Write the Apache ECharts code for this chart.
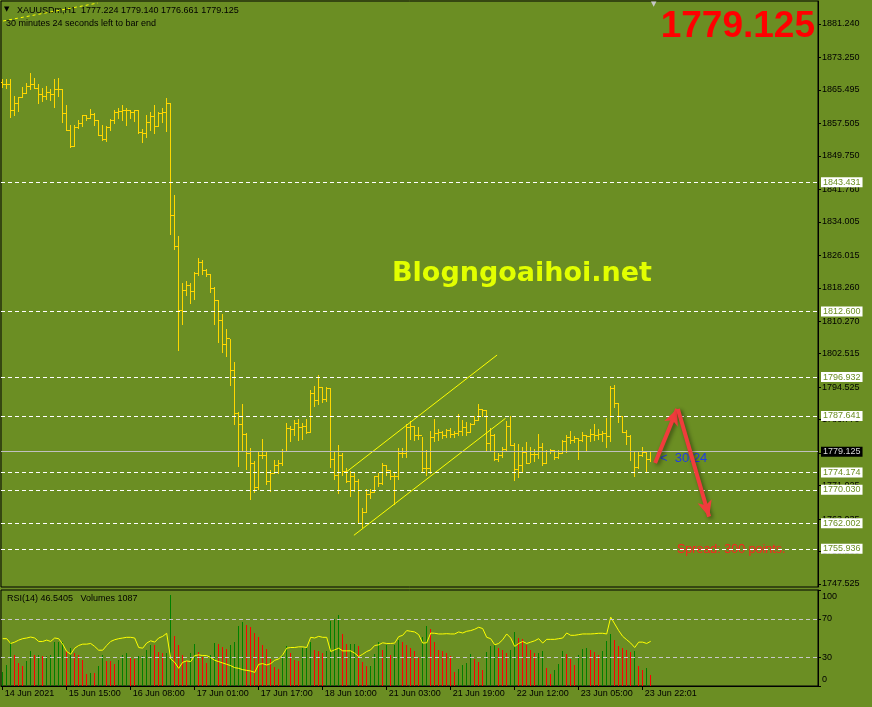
<!DOCTYPE html>
<html><head><meta charset="utf-8">
<script src="https://cdn.jsdelivr.net/npm/echarts@6/dist/echarts.min.js"></script>
<style>html,body{margin:0;padding:0;background:#6B8E23;}#c{width:872px;height:707px;}</style>
</head><body><div id="c"></div>
<script>
// ---------- DATA ----------
const opens = [1867.2,1866.7,1866.7,1860.7,1862.3,1863.7,1864.7,1866.4,1866.7,1865.9,1864.3,1864.0,1864.8,1864.3,1865.6,1865.5,1859.9,1855.9,1852.1,1856.6,1857.5,1859.3,1858.7,1859.7,1858.1,1854.7,1853.7,1856.6,1858.2,1860.1,1860.3,1860.7,1860.5,1860.1,1860.5,1855.3,1855.1,1857.8,1859.1,1856.7,1859.9,1860.1,1862.3,1835.4,1828.2,1812.9,1817.7,1818.7,1817.3,1821.7,1824.2,1822.5,1821.5,1818.1,1815.3,1810.4,1804.8,1806.2,1798.6,1788.3,1785.5,1783.3,1778.7,1776.3,1770.6,1778.3,1778.3,1772.0,1773.8,1775.9,1776.3,1779.1,1784.7,1784.3,1785.9,1784.9,1785.1,1783.7,1793.1,1791.3,1794.5,1791.6,1794.2,1777.3,1773.5,1778.1,1774.3,1772.0,1773.2,1771.9,1762.0,1764.6,1768.8,1769.3,1773.2,1771.6,1775.9,1774.6,1773.3,1773.3,1778.6,1778.6,1784.9,1785.1,1783.1,1782.9,1775.1,1775.1,1782.5,1783.5,1783.7,1783.1,1784.1,1783.3,1783.5,1783.9,1784.9,1783.7,1785.5,1786.5,1789.1,1788.9,1781.1,1783.1,1777.3,1778.1,1779.7,1785.1,1780.7,1774.8,1775.8,1778.9,1776.4,1778.5,1778.5,1780.2,1776.3,1779.1,1779.4,1777.8,1778.7,1781.5,1782.5,1781.7,1782.3,1781.7,1782.9,1782.7,1783.3,1782.9,1783.3,1783.5,1782.7,1794.2,1790.7,1787.6,1783.7,1782.7,1779.1,1775.4,1778.3,1778.9,1777.224];
const highs = [1867.9,1867.9,1868.0,1864.0,1863.7,1866.1,1867.1,1869.3,1868.3,1866.7,1865.9,1866.3,1865.6,1867.9,1868.3,1865.5,1861.7,1857.1,1856.9,1858.2,1859.5,1859.5,1860.9,1859.9,1858.3,1856.9,1856.7,1858.5,1860.7,1861.1,1861.7,1861.1,1860.7,1860.7,1860.7,1856.1,1859.5,1860.1,1861.7,1860.1,1861.1,1863.5,1862.3,1840.4,1830.6,1819.3,1819.7,1819.2,1821.9,1825.3,1824.7,1822.7,1821.5,1818.4,1815.3,1811.8,1808.3,1805.9,1800.4,1788.4,1790.5,1783.5,1779.9,1776.7,1779.1,1782.1,1778.9,1774.7,1777.0,1777.0,1779.7,1785.9,1785.1,1786.5,1786.7,1785.9,1786.8,1793.7,1794.8,1797.2,1794.5,1794.5,1794.2,1779.1,1780.7,1778.6,1775.0,1774.3,1774.1,1772.5,1765.6,1770.0,1770.0,1773.3,1773.9,1776.2,1775.9,1774.6,1773.9,1779.9,1779.9,1785.7,1786.3,1785.1,1784.9,1782.5,1779.5,1783.9,1786.7,1784.3,1783.9,1784.5,1784.7,1783.9,1787.9,1786.5,1786.0,1785.9,1787.5,1790.3,1789.2,1788.9,1784.7,1783.3,1778.7,1780.2,1786.3,1787.6,1781.0,1780.9,1780.0,1781.3,1780.2,1779.7,1783.3,1781.1,1779.5,1779.7,1779.4,1779.4,1781.9,1782.9,1783.9,1782.7,1782.3,1783.7,1783.1,1784.5,1785.5,1784.5,1783.9,1787.1,1794.8,1795.0,1790.7,1787.6,1784.1,1782.9,1779.1,1779.1,1780.2,1778.9,1779.140];
const lows = [1866.1,1865.8,1859.0,1859.5,1860.3,1863.7,1864.7,1865.5,1865.9,1862.3,1862.7,1863.2,1862.9,1861.3,1863.9,1857.7,1855.8,1851.8,1852.1,1856.3,1856.7,1858.3,1858.7,1857.1,1854.5,1853.5,1853.1,1855.9,1857.5,1858.7,1858.2,1856.9,1858.7,1857.9,1855.1,1852.9,1854.2,1855.9,1855.0,1856.7,1857.7,1855.5,1830.9,1827.3,1803.2,1809.6,1816.5,1814.4,1815.5,1821.3,1821.5,1820.9,1817.1,1809.4,1805.2,1802.8,1801.8,1795.0,1785.5,1775.7,1779.4,1774.9,1767.7,1769.3,1770.1,1777.5,1771.4,1769.6,1773.8,1773.8,1775.9,1779.1,1781.5,1783.1,1781.9,1782.1,1783.5,1783.7,1790.0,1790.5,1790.8,1791.1,1775.4,1772.5,1769.2,1773.4,1771.7,1768.4,1769.6,1761.9,1761.1,1764.5,1768.0,1769.3,1770.8,1771.2,1773.5,1772.5,1766.6,1772.4,1777.8,1777.8,1782.1,1781.7,1782.1,1774.1,1773.5,1773.8,1781.5,1781.9,1782.3,1782.5,1782.5,1782.5,1783.1,1782.9,1782.9,1783.7,1785.5,1786.5,1787.6,1779.4,1779.5,1777.0,1776.7,1777.8,1779.3,1780.5,1772.2,1773.0,1774.2,1776.2,1776.5,1776.7,1777.5,1775.9,1776.3,1778.7,1777.3,1777.5,1778.7,1778.9,1781.0,1781.3,1777.3,1781.5,1779.4,1781.5,1781.7,1782.1,1781.5,1780.2,1781.5,1789.7,1786.0,1783.7,1780.9,1777.1,1773.2,1775.1,1777.9,1774.4,1776.661];
const closes = [1866.7,1866.7,1860.7,1862.3,1863.7,1864.7,1866.4,1866.7,1865.9,1864.3,1864.0,1864.8,1864.3,1865.6,1865.5,1859.9,1855.9,1852.1,1856.6,1857.5,1859.3,1858.7,1859.7,1858.1,1854.7,1853.7,1856.6,1858.2,1860.1,1860.3,1860.7,1860.5,1860.1,1860.5,1855.3,1855.1,1857.8,1859.1,1856.7,1859.9,1860.1,1862.3,1835.4,1828.2,1812.9,1817.7,1818.7,1817.3,1821.7,1824.2,1822.5,1821.5,1818.1,1815.3,1810.4,1804.8,1806.2,1798.6,1788.3,1785.5,1783.3,1778.7,1776.3,1770.6,1778.3,1778.3,1772.0,1773.8,1775.9,1776.3,1779.1,1784.7,1784.3,1785.9,1784.9,1785.1,1783.7,1793.1,1791.3,1794.5,1791.6,1794.2,1777.3,1773.5,1778.1,1774.3,1772.0,1773.2,1771.9,1762.0,1764.6,1768.8,1769.3,1773.2,1771.6,1775.9,1774.6,1773.3,1773.3,1778.6,1778.6,1784.9,1785.1,1783.1,1782.9,1775.1,1775.1,1782.5,1783.5,1783.7,1783.1,1784.1,1783.3,1783.5,1783.9,1784.9,1783.7,1785.5,1786.5,1789.1,1788.9,1781.1,1783.1,1777.3,1778.1,1779.7,1785.1,1780.7,1774.8,1775.8,1778.9,1776.4,1778.5,1778.5,1780.2,1776.3,1779.1,1779.4,1777.8,1778.7,1781.5,1782.5,1781.7,1782.3,1781.7,1782.9,1782.7,1783.3,1782.9,1783.3,1783.5,1782.7,1794.2,1790.7,1787.6,1783.7,1782.7,1779.1,1775.4,1778.3,1778.9,1777.3,1779.125];
const rsi = [49.3,49.3,44.3,45.7,47.8,49.3,50.0,51.0,50.0,46.4,46.4,47.8,46.4,50.0,49.3,43.6,36.0,33.1,39.4,42.2,43.6,43.6,44.3,41.2,37.3,37.3,42.2,46.4,48.2,49.3,50.0,50.7,50.7,50.0,40.1,39.4,44.7,47.1,45.7,50.0,51.7,54.9,28.2,24.7,18.4,24.7,26.1,25.4,31.7,32.4,31.7,31.7,29.6,26.8,25.4,24.0,22.6,21.2,19.1,18.4,17.0,16.3,15.6,14.2,22.6,23.3,21.9,23.3,26.8,28.2,32.4,39.4,40.1,40.1,40.8,40.8,40.1,50.7,50.0,51.7,50.7,50.7,35.9,37.7,39.4,36.6,36.6,36.6,34.2,30.7,33.1,35.9,37.7,42.2,42.9,45.0,44.3,44.3,44.7,51.4,52.8,57.7,57.0,56.3,53.5,44.7,45.0,55.2,54.9,54.2,54.2,54.5,54.2,54.2,56.3,55.2,57.0,57.7,59.1,61.2,59.8,50.7,49.3,42.9,44.3,48.2,54.2,50.0,41.2,44.3,46.4,44.3,45.7,47.1,49.3,44.7,48.6,48.6,48.6,49.3,50.0,55.2,52.8,52.8,53.5,54.2,54.2,54.2,54.5,54.9,54.9,54.2,71.7,64.7,57.7,51.7,48.2,44.7,40.1,45.7,45.7,44.3,46.5405];
const volumes = [1415,2080,4290,3070,2250,1910,2475,3400,3000,3070,2900,2920,3000,4290,4300,4330,3465,3760,3240,3000,2575,1160,1260,1250,1980,3000,2475,2410,2150,2575,3070,3240,2800,2670,2900,2910,3560,3990,3960,3300,3240,3250,8910,4880,3990,3000,2475,3240,4130,3340,2800,2250,3070,4230,4130,3790,3660,4030,4330,5870,6210,5970,5770,5220,4780,3990,3660,2670,1810,1680,3000,3890,3240,2575,2475,3730,3740,4330,3560,3465,3240,3465,6310,6530,6930,5120,4060,4130,4140,3890,2350,1910,1920,3140,4330,3560,3960,3000,3960,4455,4330,3990,3730,3465,2740,4780,5870,5545,4330,3560,3465,3240,2970,1360,1680,2010,2250,3140,2670,2350,1585,3340,3890,4130,3730,3560,3240,3560,5320,4650,4640,3990,3560,3240,3250,3400,1750,1160,1585,2150,3465,3140,2670,2080,3000,3660,3670,3560,3340,3070,3465,4390,5050,4455,3890,3730,3560,3300,3465,1980,1585,1750,1087];
const timeLabels = ['14 Jun 2021','15 Jun 15:00','16 Jun 08:00','17 Jun 01:00','17 Jun 17:00','18 Jun 10:00','21 Jun 03:00','21 Jun 19:00','22 Jun 12:00','23 Jun 05:00','23 Jun 22:01'];
const timeTickBars = [0,16,32,48,64,80,96,112,128,144,160];
const priceTicks = [1881.240,1873.250,1865.495,1857.505,1849.750,1841.760,1834.005,1826.015,1818.260,1810.270,1802.515,1794.525,1786.770,1778.780,1771.025,1763.035,1755.280,1747.525];
const rsiTicks = [100,70,30,0];
const rsiLevels = [70,30];
const levels = [1843.431,1812.600,1796.932,1787.641,1774.174,1770.030,1762.002,1755.936];
const bid = 1779.125;
const channelUpper = [[86.0,1774.34],[123.6,1802.2]];
const channelLower = [[87.8,1759.15],[125.7,1787.09]];
const topTrend = [[0.1,1881.96],[23.8,1886.25]];
const arrowUp = [[163.1,1776.4],[168.6,1789.3]];
const arrowDown = [[168.8,1789.3],[176.6,1763.6]];

// ---------- CHART ----------
const BAR = '#FFD700';
const FONT = 'Liberation Sans';
const chart = echarts.init(document.getElementById('c'), null, {renderer:'canvas'});
const ohlc = opens.map((o,i)=>[i,o,highs[i],lows[i],closes[i]]);
const volData = volumes.map((v,i)=>[i,v, i===0 ? 1 : (v>=volumes[i-1]?1:0)]);
const rsiData = rsi.map((v,i)=>[i,v]);
const XMIN = -0.425, XMAX = 203.825;

function renderBar(params, api){
  const i = api.value(0);
  const o = api.coord([i, api.value(1)]);
  const h = api.coord([i, api.value(2)]);
  const l = api.coord([i, api.value(3)]);
  const c = api.coord([i, api.value(4)]);
  const px = Math.floor(o[0]);
  const xs = px + 0.5;
  const sy = y => Math.floor(y) + 0.5;
  const st = {stroke: BAR, lineWidth: 1};
  return {type:'group', children:[
    {type:'line', shape:{x1:xs,y1:Math.floor(h[1]),x2:xs,y2:Math.floor(l[1])+1}, style:st},
    {type:'line', shape:{x1:px-2,y1:sy(o[1]),x2:px,y2:sy(o[1])}, style:st},
    {type:'line', shape:{x1:px+1,y1:sy(c[1]),x2:px+3,y2:sy(c[1])}, style:st}
  ]};
}
function renderVol(params, api){
  const i = api.value(0);
  const t = api.coord([i, api.value(1)]);
  const b = api.coord([i, 0]);
  const px = Math.floor(t[0]);
  const ty = Math.round(t[1]);
  return {type:'rect', shape:{x:px, y:ty, width:1, height:Math.round(b[1])-ty},
    style:{fill: api.value(2) ? '#008000' : '#FF0000'}};
}

const lvlLabel = {show:true, position:'end', distance:3, formatter:p=>Number(p.value).toFixed(3),
  backgroundColor:'#FFFFFF', color:'#6B8E23', padding:[1,2,0,2], fontSize:9, fontFamily:FONT};

const option = {
  backgroundColor:'#6B8E23',
  animation:false,
  grid:[
    {left:1, top:1, width:817, height:586, show:true, borderColor:'#000', borderWidth:1, backgroundColor:'transparent'},
    {left:1, top:590, width:817, height:96, show:true, borderColor:'#000', borderWidth:1, backgroundColor:'transparent'}
  ],
  xAxis:[
    {type:'value', gridIndex:0, min:XMIN, max:XMAX, show:false},
    {type:'value', gridIndex:1, min:XMIN, max:XMAX, position:'bottom',
      axisLine:{show:true, onZero:false, lineStyle:{color:'#000'}},
      axisTick:{show:true, customValues:timeTickBars, length:4, lineStyle:{color:'#000'}},
      axisLabel:{show:true, customValues:timeTickBars, color:'#000', fontSize:9, fontFamily:FONT, align:'left', margin:3,
        padding:[0,0,0,2], formatter:v=>timeLabels[timeTickBars.indexOf(Math.round(v))] || ''},
      splitLine:{show:false}}
  ],
  yAxis:[
    {type:'value', gridIndex:0, position:'right', min:1746.81, max:1886.73,
      axisLine:{show:true, onZero:false, lineStyle:{color:'#000'}},
      axisTick:{show:true, customValues:priceTicks, length:3, lineStyle:{color:'#000'}},
      axisLabel:{show:true, customValues:priceTicks, color:'#000', fontSize:9, fontFamily:FONT, margin:4, formatter:v=>v.toFixed(3)},
      splitLine:{show:false}},
    {type:'value', gridIndex:1, position:'right', min:0, max:100,
      axisLine:{show:true, onZero:false, lineStyle:{color:'#000'}},
      axisTick:{show:true, customValues:rsiTicks, length:3, lineStyle:{color:'#000'}},
      axisLabel:{show:true, customValues:rsiTicks, color:'#000', fontSize:9, fontFamily:FONT, margin:4,
        formatter:v=> v===100 ? '{t|100}' : (v===0 ? '{b|0}' : String(v)),
        rich:{t:{padding:[14,0,0,0], fontSize:9, fontFamily:FONT, color:'#000'}, b:{padding:[0,0,12,0], fontSize:9, fontFamily:FONT, color:'#000'}}},
      splitLine:{show:false}},
    {type:'value', gridIndex:1, min:0, max:9386, show:false, axisLine:{onZero:false}}
  ],
  series:[
    {type:'line', xAxisIndex:0, yAxisIndex:0, data:[], silent:true,
      markLine:{silent:true, symbol:['none','none'], animation:false, precision:3,
        data: levels.map(v=>({yAxis:v, lineStyle:{color:'#FFFFFF', type:[4,3], width:1}, label:lvlLabel}))
          .concat([{yAxis:bid, lineStyle:{color:'#C0C0C0', type:'solid', width:1},
            label:Object.assign({}, lvlLabel, {backgroundColor:'#000', color:'#D8D8D8'})}])}},
    {type:'custom', xAxisIndex:0, yAxisIndex:0, data:ohlc, renderItem:renderBar, clip:true, silent:true, z:3},
    {type:'line', xAxisIndex:0, yAxisIndex:0, data:channelUpper, symbol:'none', lineStyle:{color:'#FFFF00', width:1}, silent:true, z:4},
    {type:'line', xAxisIndex:0, yAxisIndex:0, data:channelLower, symbol:'none', lineStyle:{color:'#FFFF00', width:1}, silent:true, z:4},
    {type:'line', xAxisIndex:0, yAxisIndex:0, data:topTrend, symbol:'none', clip:true, lineStyle:{color:'#FFFF00', width:1, type:[3,3]}, silent:true, z:4},
    {type:'line', xAxisIndex:0, yAxisIndex:0, data:[], silent:true, z:6,
      markLine:{silent:true, symbol:['none','arrow'], symbolSize:[11,16], animation:false,
        lineStyle:{color:'#F03C3C', width:4, type:'solid', shadowColor:'rgba(0,0,0,0.45)', shadowBlur:4, shadowOffsetX:2, shadowOffsetY:2},
        label:{show:false},
        data:[[{coord:arrowUp[0]},{coord:arrowUp[1]}],[{coord:arrowDown[0]},{coord:arrowDown[1]}]]}},
    {type:'custom', xAxisIndex:1, yAxisIndex:2, data:volData, renderItem:renderVol, clip:true, silent:true, z:2},
    {type:'line', xAxisIndex:1, yAxisIndex:1, data:rsiData, symbol:'none', lineStyle:{color:'#FFFF00', width:1}, silent:true, z:4,
      markLine:{silent:true, symbol:['none','none'], animation:false, label:{show:false},
        lineStyle:{color:'#C8C8C8', type:[4,3], width:1},
        data: rsiLevels.map(v=>({yAxis:v}))}}
  ],
  graphic:[
    {type:'text', left:4, top:6, style:{text:'▼', fill:'#000', font:'7px "DejaVu Sans"'}},
    {type:'text', x:17, y:10.5, style:{text:'XAUUSDm,H1  1777.224 1779.140 1776.661 1779.125', fill:'#000', font:'9px "'+FONT+'"', verticalAlign:'middle'}},
    {type:'text', x:6, y:24, style:{text:'30 minutes 24 seconds left to bar end', fill:'#000', font:'9px "'+FONT+'"', verticalAlign:'middle'}},
    {type:'text', x:651, y:1, style:{text:'▼', fill:'#C8C8C8', font:'7px "DejaVu Sans"'}},
    {type:'text', x:815, y:27, style:{text:'1779.125', fill:'#FF0000', font:'bold 37px "'+FONT+'"', align:'right', verticalAlign:'middle'}},
    {type:'text', x:392, y:273.5, z:1, style:{text:'Blogngoaihoi.net', fill:'#E2FF00', font:'bold 27px "DejaVu Sans"', verticalAlign:'middle',
      shadowColor:'rgba(0,0,0,0.55)', shadowBlur:3, shadowOffsetX:2, shadowOffsetY:2}},
    {type:'text', x:660, y:458, z:5, style:{text:'<  30:24', fill:'#1E3CE6', font:'13px "'+FONT+'"', verticalAlign:'middle'}},
    {type:'text', x:677, y:550, style:{text:'Spread: 300 points.', fill:'#FF2020', font:'12.5px "'+FONT+'"', verticalAlign:'middle'}},
    {type:'text', x:7, y:599, style:{text:'RSI(14) 46.5405   Volumes 1087', fill:'#000', font:'9px "'+FONT+'"', verticalAlign:'middle'}}
  ]
};
chart.setOption(option);
</script></body></html>
